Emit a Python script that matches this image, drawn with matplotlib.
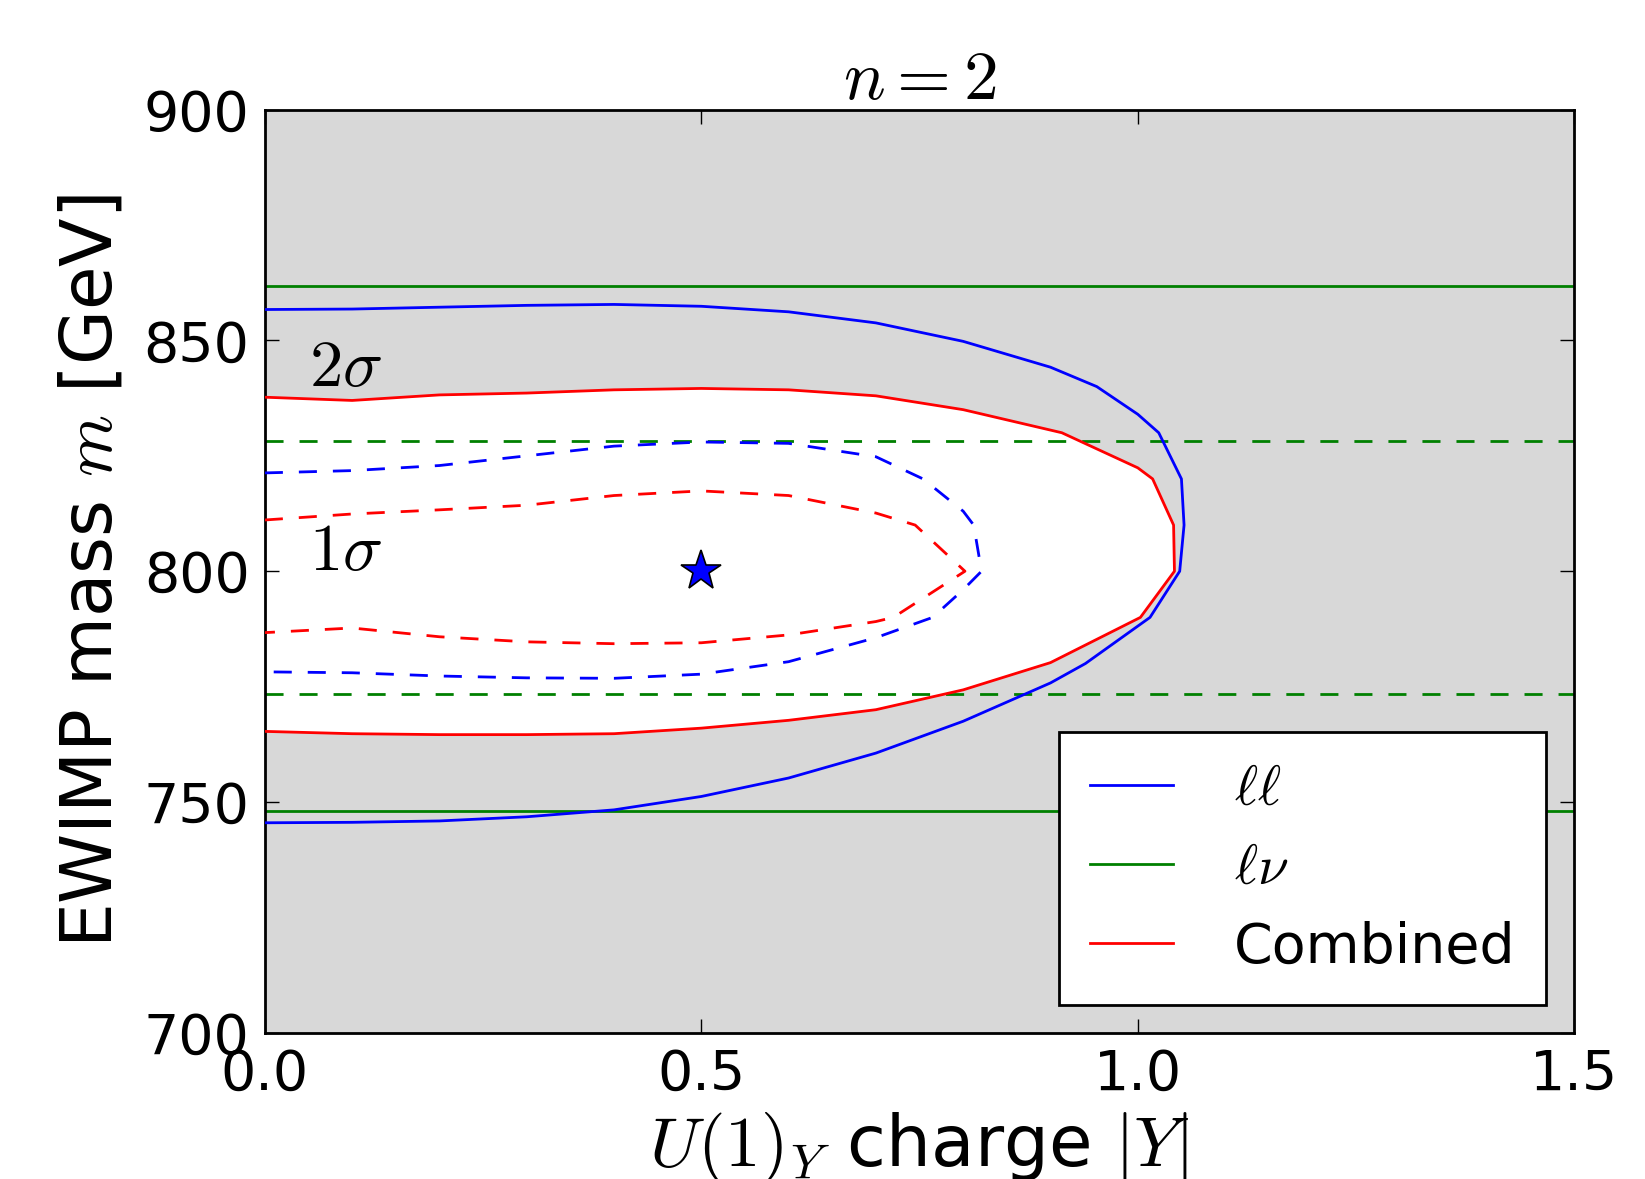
import matplotlib
matplotlib.use("Agg")
import matplotlib.pyplot as plt
import numpy as np

plt.rcParams['mathtext.fontset'] = 'cm'
plt.rcParams['font.family'] = 'DejaVu Sans'
plt.rcParams['lines.scale_dashes'] = False

# --- contour data (|Y|, m [GeV]), path goes upper branch -> tip -> lower branch
ll_2s_x = [0.0, 0.1, 0.2, 0.3, 0.4, 0.5, 0.6, 0.7, 0.8, 0.9, 0.953, 1.0, 1.024, 1.05, 1.053, 1.048,
           1.014, 0.94, 0.9, 0.8, 0.7, 0.6, 0.5, 0.4, 0.3, 0.2, 0.1, 0.0]
ll_2s_y = [856.7, 856.8, 857.2, 857.6, 857.8, 857.4, 856.2, 853.8, 849.8, 844.2, 840.0, 834.0, 830.0, 820.0, 810.0, 800.0,
           790.0, 780.0, 775.8, 767.5, 760.6, 755.2, 751.2, 748.3, 746.8, 745.9, 745.6, 745.5]

ll_1s_x = [0.0, 0.1, 0.2, 0.3, 0.4, 0.5, 0.6, 0.7, 0.754, 0.8, 0.812, 0.821,
           0.8, 0.765, 0.7, 0.6, 0.5, 0.4, 0.3, 0.2, 0.1, 0.0]
ll_1s_y = [821.3, 821.8, 822.9, 825.0, 827.1, 828.0, 827.7, 824.8, 820.0, 813.0, 810.0, 800.0,
           796.0, 790.0, 785.6, 780.4, 777.7, 776.8, 776.9, 777.3, 778.0, 778.2]

comb_2s_x = [0.0, 0.1, 0.2, 0.3, 0.4, 0.5, 0.6, 0.7, 0.8, 0.913, 1.0, 1.017, 1.041, 1.042,
             1.003, 0.9, 0.8, 0.7, 0.6, 0.5, 0.4, 0.3, 0.2, 0.1, 0.0]
comb_2s_y = [837.7, 837.0, 838.2, 838.6, 839.3, 839.6, 839.3, 838.0, 835.0, 830.0, 822.4, 820.0, 810.0, 800.0,
             790.0, 780.2, 774.3, 770.0, 767.7, 766.0, 764.8, 764.6, 764.6, 764.8, 765.3]

comb_1s_x = [0.0, 0.1, 0.2, 0.3, 0.4, 0.5, 0.6, 0.7, 0.745, 0.802,
             0.72, 0.7, 0.6, 0.5, 0.4, 0.3, 0.2, 0.1, 0.0]
comb_1s_y = [811.1, 812.4, 813.3, 814.3, 816.4, 817.4, 816.4, 812.6, 810.0, 800.0,
             790.0, 789.1, 786.2, 784.5, 784.3, 784.7, 785.8, 787.7, 786.7]

# l-nu channel does not depend on Y -> horizontal bands
lnu_2s = [748.0, 861.7]
lnu_1s = [773.3, 828.3]

best_fit = (0.5, 800.0)

fig = plt.figure(figsize=(16.45, 11.79), dpi=100)
ax = fig.add_axes([0.161, 0.124, 0.796, 0.783])
ax.set_facecolor('#d8d8d8')

# allowed (2 sigma combined) region in white
ax.fill(comb_2s_x, comb_2s_y, color='white', lw=0, zorder=1)

lw = 2.0
dash = (13, 11.5)
ax.plot(ll_2s_x, ll_2s_y, color='blue', lw=lw, zorder=3)
ax.plot(ll_1s_x, ll_1s_y, color='blue', lw=lw, dashes=dash, zorder=3)
ax.plot(comb_2s_x, comb_2s_y, color='red', lw=lw, zorder=3)
ax.plot(comb_1s_x, comb_1s_y, color='red', lw=lw, dashes=dash, zorder=3)
for m in lnu_2s:
    ax.axhline(m, color='green', lw=lw, zorder=2)
for m in lnu_1s:
    ax.axhline(m, color='green', lw=lw, dashes=dash, zorder=2)

ax.plot(best_fit[0], best_fit[1], marker='*', ms=30, color='blue', mec='black', mew=1.2, zorder=5)

ax.text(0.093, 844.3, r'$2\sigma$', fontsize=48, ha='center', va='center', zorder=4)
ax.text(0.093, 804.4, r'$1\sigma$', fontsize=48, ha='center', va='center', zorder=4)

# legend with proxy handles
h1, = ax.plot([], [], color='blue', lw=lw, label=r'$\ell\ell$')
h2, = ax.plot([], [], color='green', lw=lw, label=r'$\ell\nu$')
h3, = ax.plot([], [], color='red', lw=lw, label='Combined')
leg = ax.legend(handles=[h1, h2, h3], loc='lower right', fontsize=40, fancybox=False,
                framealpha=1, edgecolor='black', handlelength=1.5, handletextpad=1.1,
                labelspacing=0.45, borderpad=0.55, borderaxespad=0.5)
leg.get_frame().set_linewidth(2)
leg.set_zorder(6)

ax.set_xlim(0, 1.5)
ax.set_ylim(700, 900)
ax.set_xticks([0.0, 0.5, 1.0, 1.5])
ax.set_yticks([700, 750, 800, 850, 900])
ax.tick_params(direction='in', length=10, width=1, labelsize=40, pad=11,
               top=True, right=True)
for s in ax.spines.values():
    s.set_linewidth(2)

ax.set_title(r'$n=2$', fontsize=50, pad=8)
ax.set_xlabel(r'$U(1)_Y$ charge $|Y|$', fontsize=51, labelpad=6)
ax.set_ylabel(r'EWIMP mass $m$ [GeV]', fontsize=51, labelpad=12)

fig.savefig('out.png', dpi=100)
